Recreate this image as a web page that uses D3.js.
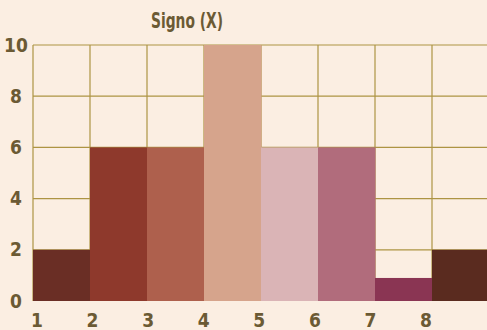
<!DOCTYPE html>
<html>
<head>
<meta charset="utf-8">
<script src="https://cdn.jsdelivr.net/npm/d3@7"></script>
<style>
  body { margin: 0; background: #fbeee2; }
  svg { display: block; }
  text { font-family: 'Liberation Sans Narrow', 'DejaVu Sans Condensed', sans-serif; font-weight: bold; fill: #6b5a34; }
</style>
</head>
<body>
<div id="chart"></div>
<script>
// Data
var categories = [1, 2, 3, 4, 5, 6, 7, 8]
var values = [2, 6, 6, 10, 6, 6, 0.9, 2]
var barColors = ['#6a2e25', '#8e392c', '#ae604d', '#d6a48c', '#dab4b6', '#b16c7c', '#8a3553', '#5a2b1f']
var yTicks = [0, 2, 4, 6, 8, 10]
var title = 'Signo (X)'

var width = 487
var height = 330
var margin = { top: 45, left: 33, right: -2, bottom: 28 }

var svg = d3.select('#chart')
  .append('svg')
  .attr('width', width)
  .attr('height', height)

var xPositionScale = d3.scaleBand()
  .domain(categories)
  .range([margin.left, width - margin.right])
  .padding(0)

// tick labels in the scan drift slightly left of the column edges
var xLabelScale = d3.scaleLinear()
  .domain([1, 8])
  .range([37, 426])

var yPositionScale = d3.scaleLinear()
  .domain([0, 10])
  .range([height - margin.bottom - 1, margin.top])

var gridColor = '#ad9443'

// horizontal grid
svg.append('g')
  .selectAll('line')
  .data(yTicks.filter(d => d > 0))
  .enter()
  .append('line')
  .attr('x1', margin.left)
  .attr('x2', width)
  .attr('y1', d => yPositionScale(d))
  .attr('y2', d => yPositionScale(d))
  .attr('stroke', gridColor)
  .attr('stroke-width', 1.2)

// vertical grid at column edges
svg.append('g')
  .selectAll('line')
  .data(categories)
  .enter()
  .append('line')
  .attr('x1', d => xPositionScale(d))
  .attr('x2', d => xPositionScale(d))
  .attr('y1', yPositionScale(10))
  .attr('y2', yPositionScale(0))
  .attr('stroke', gridColor)
  .attr('stroke-width', 1.2)

// bars
svg.append('g')
  .selectAll('rect')
  .data(categories)
  .enter()
  .append('rect')
  .attr('x', d => xPositionScale(d))
  .attr('width', xPositionScale.bandwidth() + 0.5)
  .attr('y', (d, i) => yPositionScale(values[i]))
  .attr('height', (d, i) => yPositionScale(0) - yPositionScale(values[i]))
  .attr('fill', (d, i) => barColors[i])

// y labels
svg.append('g')
  .selectAll('text')
  .data(yTicks)
  .enter()
  .append('text')
  .text(d => d)
  .attr('x', 16)
  .attr('y', d => yPositionScale(d))
  .attr('dy', '0.35em')
  .attr('text-anchor', 'middle')
  .attr('font-size', 19)

// x labels
svg.append('g')
  .selectAll('text')
  .data(categories)
  .enter()
  .append('text')
  .text(d => d)
  .attr('x', d => xLabelScale(d))
  .attr('y', 327)
  .attr('text-anchor', 'middle')
  .attr('font-size', 19)

svg.append('text')
  .text(title)
  .attr('x', 187)
  .attr('y', 28)
  .attr('text-anchor', 'middle')
  .attr('font-size', 22)
  .attr('textLength', 72)
  .attr('lengthAdjust', 'spacingAndGlyphs')
</script>
</body>
</html>
